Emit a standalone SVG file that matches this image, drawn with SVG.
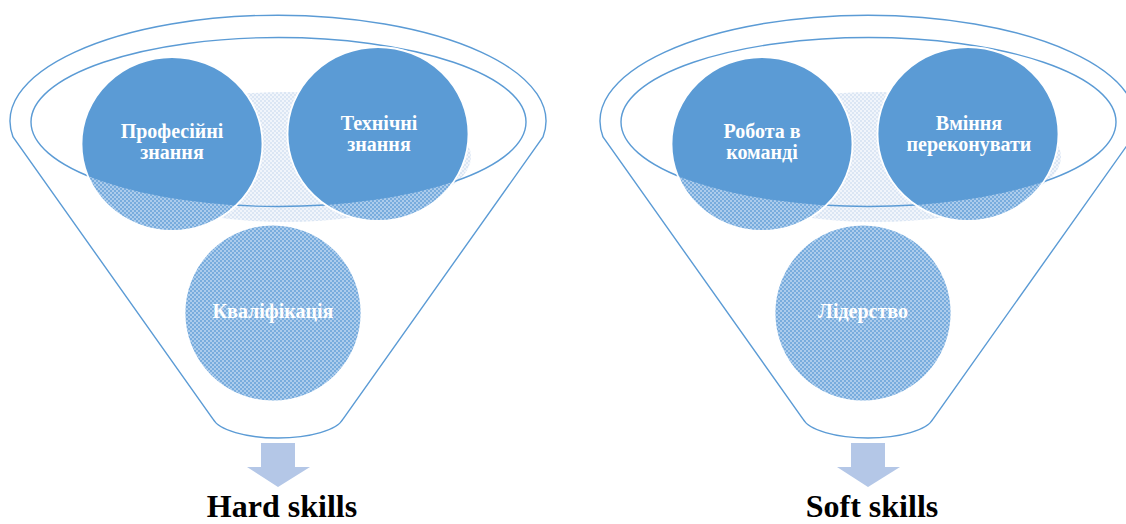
<svg xmlns="http://www.w3.org/2000/svg" width="1126" height="524" viewBox="0 0 1126 524">
<style>
.line{fill:none;stroke:#5b9bd5;stroke-width:1.4}
.solid{fill:#5b9bd5}
.pat{fill:url(#dk)}
.pale{fill:url(#lt)}
.ring{fill:none;stroke:#ffffff;stroke-width:1.8}
.lbl{font-family:"Liberation Serif","Times New Roman",serif;font-weight:bold;font-size:20px;fill:#ffffff;text-anchor:middle}
.title{font-family:"Liberation Serif","Times New Roman",serif;font-weight:bold;font-size:32px;fill:#000000;text-anchor:middle}
.arrow{fill:#b4c7e7}
</style>
<defs>
<pattern id="dk" width="4" height="4" patternUnits="userSpaceOnUse">
<rect width="4" height="4" fill="#acccec"/>
<rect width="2" height="2" fill="#78acdd"/>
<rect x="2" y="2" width="2" height="2" fill="#78acdd"/>
</pattern>
<pattern id="lt" width="4" height="4" patternUnits="userSpaceOnUse">
<rect width="4" height="4" fill="#f1f5fb"/>
<rect width="2" height="2" fill="#dbe6f4"/>
<rect x="2" y="2" width="2" height="2" fill="#dbe6f4"/>
</pattern>
<clipPath id="inL"><ellipse cx="278.5" cy="122" rx="247.5" ry="84.5"/></clipPath>
<clipPath id="inR"><ellipse cx="868.5" cy="122" rx="247.5" ry="84.5"/></clipPath>
</defs>

<!-- Left funnel (Hard skills) -->
<g id="funnel-hard">
<path class="line" d="M13,137 A268,106 0 1,1 543,137 L343,419 A66,23 0 0,1 213,419 Z"/>
<ellipse class="pale" cx="285" cy="157" rx="186" ry="65"/>
<ellipse class="line" cx="278.5" cy="122" rx="247.5" ry="84.5"/>
</g>
<g id="node-profznannia">
<ellipse class="pat" cx="172" cy="144" rx="90.5" ry="87"/>
<ellipse class="solid" cx="172" cy="144" rx="90.5" ry="87" clip-path="url(#inL)"/>
<ellipse class="ring" cx="172" cy="144" rx="90.5" ry="87"/>
<text class="lbl" x="172" y="138">Професійні</text>
<text class="lbl" x="172" y="159">знання</text>
</g>
<g id="node-tekhznannia">
<ellipse class="pat" cx="378" cy="134" rx="90.5" ry="87"/>
<ellipse class="solid" cx="378" cy="134" rx="90.5" ry="87" clip-path="url(#inL)"/>
<ellipse class="ring" cx="378" cy="134" rx="90.5" ry="87"/>
<text class="lbl" x="379" y="130">Технічні</text>
<text class="lbl" x="379" y="151">знання</text>
</g>
<g id="node-kvalifikatsiia">
<circle class="pat" cx="273" cy="313" r="88.5"/>
<circle class="ring" cx="273" cy="313" r="88.5"/>
<text class="lbl" x="273" y="318">Кваліфікація</text>
</g>
<g id="node-hard-skills">
<text class="title" x="282" y="517">Hard skills</text>
</g>

<!-- Right funnel (Soft skills) -->
<g id="funnel-soft">
<path class="line" d="M603,137 A268,106 0 1,1 1133,137 L933,419 A66,23 0 0,1 803,419 Z"/>
<ellipse class="pale" cx="875" cy="157" rx="186" ry="65"/>
<ellipse class="line" cx="868.5" cy="122" rx="247.5" ry="84.5"/>
</g>
<g id="node-robota">
<ellipse class="pat" cx="762" cy="144" rx="90.5" ry="87"/>
<ellipse class="solid" cx="762" cy="144" rx="90.5" ry="87" clip-path="url(#inR)"/>
<ellipse class="ring" cx="762" cy="144" rx="90.5" ry="87"/>
<text class="lbl" x="762" y="138">Робота в</text>
<text class="lbl" x="762" y="159">команді</text>
</g>
<g id="node-vminnia">
<ellipse class="pat" cx="968" cy="134" rx="90.5" ry="87"/>
<ellipse class="solid" cx="968" cy="134" rx="90.5" ry="87" clip-path="url(#inR)"/>
<ellipse class="ring" cx="968" cy="134" rx="90.5" ry="87"/>
<text class="lbl" x="969" y="130">Вміння</text>
<text class="lbl" x="969" y="151">переконувати</text>
</g>
<g id="node-liderstvo">
<circle class="pat" cx="863" cy="313" r="88.5"/>
<circle class="ring" cx="863" cy="313" r="88.5"/>
<text class="lbl" x="863" y="318">Лідерство</text>
</g>
<g id="node-soft-skills">
<text class="title" x="872" y="517">Soft skills</text>
</g>

<!-- Connectors -->
<g id="connectors">
<polygon class="arrow" points="261,443 295,443 295,467 310,467 278,487 247,467 261,467"/>
<polygon class="arrow" points="851,443 885,443 885,467 900,467 868,487 837,467 851,467"/>
</g>
</svg>
